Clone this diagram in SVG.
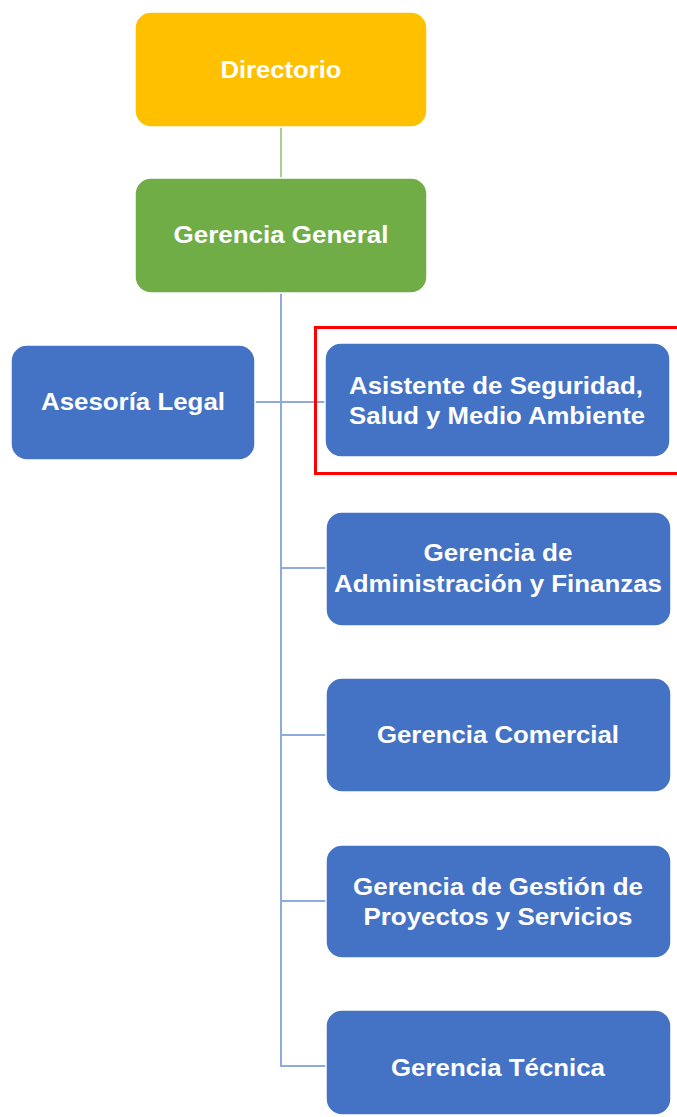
<svg xmlns="http://www.w3.org/2000/svg" width="677" height="1117" viewBox="0 0 677 1117">
<style>
.box{stroke:#ffffff;stroke-width:1.5}
.blue{fill:#4472C4}
.t{font-family:"Liberation Sans",Arial,sans-serif;font-weight:bold;font-size:23px;fill:#ffffff;text-anchor:middle}
.lb{stroke:#8FAADC;stroke-width:2;fill:none}
.lg{stroke:#A9D18E;stroke-width:2;fill:none}
</style>
<rect width="677" height="1117" fill="#ffffff"/>
<g id="connectors">
<line class="lg" x1="281" y1="127" x2="281" y2="178"/>
<path class="lb" d="M281 293 V1066 H326"/>
<line class="lb" x1="255" y1="402" x2="326" y2="402"/>
<line class="lb" x1="281" y1="568" x2="326" y2="568"/>
<line class="lb" x1="281" y1="735" x2="326" y2="735"/>
<line class="lb" x1="281" y1="901" x2="326" y2="901"/>
</g>
<g id="directorio">
<rect class="box" x="135" y="12" width="292" height="115" rx="16" fill="#FFC000"/>
<text class="t" x="281" y="78" textLength="121" lengthAdjust="spacingAndGlyphs">Directorio</text>
</g>
<g id="gerencia-general">
<rect class="box" x="135" y="178" width="292" height="115" rx="16" fill="#70AD47"/>
<text class="t" x="281" y="243" textLength="215" lengthAdjust="spacingAndGlyphs">Gerencia General</text>
</g>
<g id="asesoria-legal">
<rect class="box blue" x="11" y="345" width="244" height="115" rx="16"/>
<text class="t" x="133" y="410" textLength="184" lengthAdjust="spacingAndGlyphs">Asesoría Legal</text>
</g>
<g id="asistente-ssma">
<rect class="box blue" x="325" y="343" width="345" height="114" rx="16"/>
<text class="t" x="496" y="394" textLength="294" lengthAdjust="spacingAndGlyphs">Asistente de Seguridad,</text>
<text class="t" x="497" y="424" textLength="296" lengthAdjust="spacingAndGlyphs">Salud y Medio Ambiente</text>
<rect x="315.5" y="327.5" width="365" height="146" fill="none" stroke="#FF0000" stroke-width="3"/>
</g>
<g id="gerencia-admin">
<rect class="box blue" x="326" y="512" width="345" height="114" rx="16"/>
<text class="t" x="498" y="561" textLength="149" lengthAdjust="spacingAndGlyphs">Gerencia de</text>
<text class="t" x="498" y="592" textLength="328" lengthAdjust="spacingAndGlyphs">Administración y Finanzas</text>
</g>
<g id="gerencia-comercial">
<rect class="box blue" x="326" y="678" width="345" height="114" rx="16"/>
<text class="t" x="498" y="743" textLength="242" lengthAdjust="spacingAndGlyphs">Gerencia Comercial</text>
</g>
<g id="gerencia-gestion">
<rect class="box blue" x="326" y="845" width="345" height="113" rx="16"/>
<text class="t" x="498" y="895" textLength="290" lengthAdjust="spacingAndGlyphs">Gerencia de Gestión de</text>
<text class="t" x="498" y="925" textLength="269" lengthAdjust="spacingAndGlyphs">Proyectos y Servicios</text>
</g>
<g id="gerencia-tecnica">
<rect class="box blue" x="326" y="1010" width="345" height="105" rx="16"/>
<text class="t" x="498" y="1076" textLength="214" lengthAdjust="spacingAndGlyphs">Gerencia Técnica</text>
</g>
</svg>
